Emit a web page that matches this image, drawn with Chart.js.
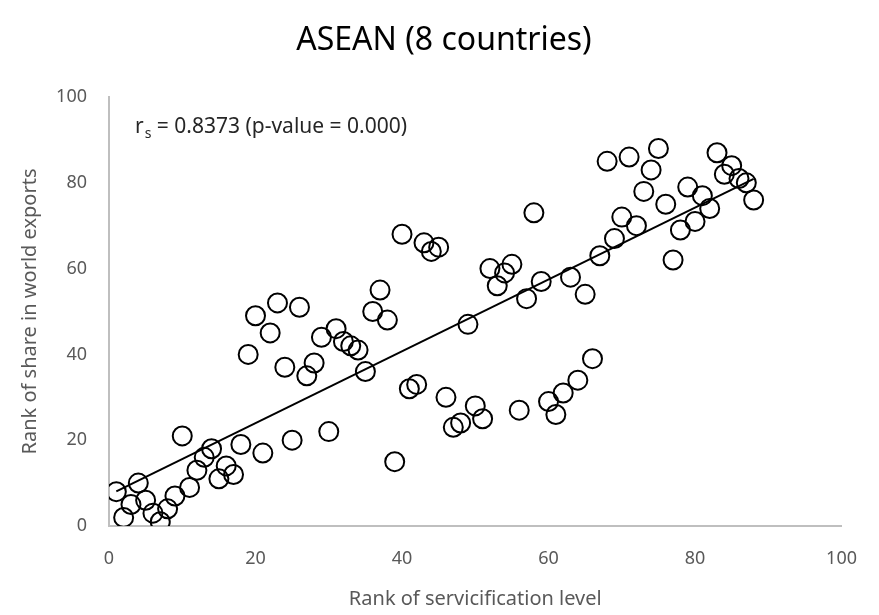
<!DOCTYPE html>
<html>
<head>
<meta charset="utf-8">
<script src="https://cdn.jsdelivr.net/npm/chart.js@4/dist/chart.umd.min.js"></script>
<style>
  html, body { margin: 0; padding: 0; background: #fff; }
</style>
</head>
<body>
<canvas id="myChart" width="879" height="615"></canvas>
<script>
// ASEAN scatter: rank of servicification vs rank of share in world exports
const servRank = [1,2,3,4,5,6,7,8,9,10,11,12,13,14,15,16,17,18,19,20,21,22,23,24,25,26,27,28,29,30,
  31,32,33,34,35,36,37,38,39,40,41,42,43,44,45,46,47,48,49,50,51,52,53,54,55,56,57,58,59,60,
  61,62,63,64,65,66,67,68,69,70,71,72,73,74,75,76,77,78,79,80,81,82,83,84,85,86,87,88]
const shareRank = [8,2,5,10,6,3,1,4,7,21,9,13,16,18,11,14,12,19,40,49,17,45,52,37,20,51,35,38,44,22,
  46,43,42,41,36,50,55,48,15,68,32,33,66,64,65,30,23,24,47,28,25,60,56,59,61,27,53,73,57,29,
  26,31,58,34,54,39,63,85,67,72,86,70,78,83,88,75,62,69,79,71,77,74,87,82,84,81,80,76]
const xTicks = [0, 20, 40, 60, 80, 100]
const yTicks = [0, 20, 40, 60, 80, 100]

const chartTitle = 'ASEAN (8 countries)'
const xTitle = 'Rank of servicification level'
const yTitle = 'Rank of share in world exports'
const statLabel = ' = 0.8373 (p-value = 0.000)'

const FONT = '"Noto Sans", "Open Sans", sans-serif'

// least squares fit line through the points
const n = servRank.length
const mx = servRank.reduce((a, b) => a + b, 0) / n
const my = shareRank.reduce((a, b) => a + b, 0) / n
let sxy = 0, sxx = 0
for (let i = 0; i < n; i++) {
  sxy += (servRank[i] - mx) * (shareRank[i] - my)
  sxx += (servRank[i] - mx) ** 2
}
const slope = sxy / sxx
const icpt = my - slope * mx
const xFirst = Math.min(...servRank), xLast = Math.max(...servRank)
const fitLine = [
  {x: xFirst, y: icpt + slope * xFirst},
  {x: xLast, y: icpt + slope * xLast}
]

const points = servRank.map((x, i) => ({x: x, y: shareRank[i]}))

// title and r_s note drawn on the canvas
const textLayer = {
  id: 'textLayer',
  afterDraw(chart) {
    const {ctx, chartArea} = chart
    ctx.save()
    ctx.fillStyle = '#000'
    ctx.font = '32px ' + FONT
    ctx.textAlign = 'center'
    ctx.textBaseline = 'alphabetic'
    ctx.fillText(chartTitle, 444, 50)

    ctx.fillStyle = '#262626'
    ctx.textAlign = 'left'
    let x = chartArea.left + 26
    const y = chartArea.top + 36
    ctx.font = '21px ' + FONT
    ctx.fillText('r', x, y)
    x += ctx.measureText('r').width + 1
    ctx.font = '14px ' + FONT
    ctx.fillText('s', x, y + 5)
    x += ctx.measureText('s').width
    ctx.font = '21px ' + FONT
    ctx.fillText(statLabel, x, y)
    ctx.restore()
  }
}

new Chart(document.getElementById('myChart'), {
  type: 'scatter',
  data: {
    datasets: [{
      label: 'Countries',
      data: points,
      pointRadius: 9.5,
      pointHoverRadius: 9.5,
      pointBorderWidth: 2,
      borderColor: '#000',
      backgroundColor: 'rgba(0,0,0,0)'
    }, {
      type: 'line',
      label: 'Fit',
      data: fitLine,
      borderColor: '#000',
      borderWidth: 2,
      pointRadius: 0,
      fill: false
    }]
  },
  options: {
    responsive: false,
    animation: false,
    layout: {padding: {top: 97, right: 35, left: 0, bottom: 0}},
    plugins: {
      legend: {display: false},
      title: {display: false},
      tooltip: {enabled: false}
    },
    scales: {
      x: {
        type: 'linear',
        min: 0,
        max: 100,
        afterBuildTicks: (s) => { s.ticks = xTicks.map(v => ({value: v})) },
        afterFit: (s) => { s.height = 89 },
        grid: {display: false, drawTicks: false},
        border: {display: true, color: '#bfbfbf', width: 2},
        ticks: {color: '#595959', font: {size: 18, family: FONT}, padding: 22, maxRotation: 0},
        title: {display: true, text: xTitle, color: '#595959', font: {size: 20, family: FONT}, padding: {top: 0, bottom: 4}}
      },
      y: {
        type: 'linear',
        min: 0,
        max: 100,
        afterBuildTicks: (s) => { s.ticks = yTicks.map(v => ({value: v})) },
        afterFit: (s) => { s.width = 109 },
        grid: {display: false, drawTicks: false},
        border: {display: true, color: '#bfbfbf', width: 2},
        ticks: {color: '#595959', font: {size: 18, family: FONT}, padding: 22},
        title: {display: true, text: yTitle, color: '#595959', font: {size: 20, family: FONT}, padding: {top: 18, bottom: 0}}
      }
    }
  },
  plugins: [textLayer]
})
</script>
</body>
</html>
